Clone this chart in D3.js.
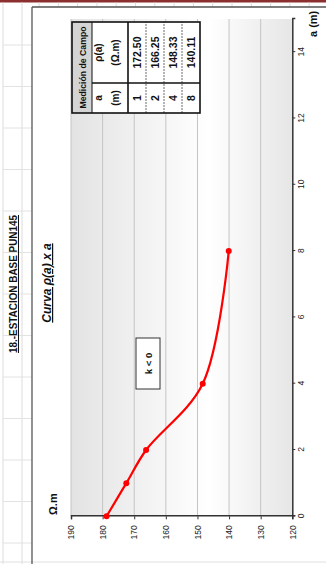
<!DOCTYPE html>
<html>
<head>
<meta charset="utf-8">
<script src="https://cdnjs.cloudflare.com/ajax/libs/d3/7.8.5/d3.min.js"></script>
<style>
  body { margin: 0; background: #fff; }
  svg { display: block; }
  text { font-family: "Liberation Sans", Arial, sans-serif; }
</style>
</head>
<body>
<svg id="svg" width="326" height="564"></svg>
<script>
// field measurements (a in m, rho in ohm.m)
var aValues = [0, 1, 2, 4, 8];
var rhoValues = [178.75, 172.5, 166.25, 148.33, 140.11];
var tableA = [1, 2, 4, 8];
var tableRho = [172.50, 166.25, 148.33, 140.11];
var xTicks = [0, 2, 4, 6, 8, 10, 12, 14];
var yTicks = [120, 130, 140, 150, 160, 170, 180, 190];
var xDomain = [0, 15];
var yDomain = [120, 190];

var svg = d3.select("#svg");
// page is the sheet turned a quarter, so draw upright and rotate
var W = 564, H = 326;

// sheet decoration in page coords
var deco = svg.append("g");
deco.append("rect").attr("x", 0).attr("y", 0).attr("width", 326).attr("height", 2.5).style("fill", "#8c2f2f");
[3, 22].forEach(function(px){
	deco.append("line").attr("x1", px).attr("x2", px).attr("y1", 2.5).attr("y2", 564).attr("stroke", "#dcdcdc").attr("stroke-width", 1);
});
for(var ry = 45; ry < 560; ry += 41.5){
	deco.append("line").attr("x1", 3).attr("x2", 32).attr("y1", ry).attr("y2", ry).attr("stroke", "#e2e2e2");
}
for(var cx = 39; cx < 326; cx += 19.3){
	deco.append("line").attr("x1", cx).attr("x2", cx).attr("y1", 2.5).attr("y2", 7).attr("stroke", "#dcdcdc");
}
deco.append("line").attr("x1", 0).attr("x2", 326).attr("y1", 562).attr("y2", 562).attr("stroke", "#e0e0e0");

var g = svg.append("g").attr("transform", "translate(0," + W + ") rotate(-90)");

// chart frame
g.append("line").attr("x1", 0).attr("x2", 557).attr("y1", 32).attr("y2", 32).attr("stroke", "#555").attr("stroke-width", 1.3);
g.append("line").attr("x1", 557).attr("x2", 557).attr("y1", 32).attr("y2", H).attr("stroke", "#555").attr("stroke-width", 1.3);

var plot = {left: 47.7, right: 545, top: 71, bottom: 292.3};
var x = d3.scaleLinear().domain(xDomain).range([plot.left, plot.right]);
var y = d3.scaleLinear().domain(yDomain).range([plot.bottom, plot.top]);

var defs = svg.append("defs");
var grad = defs.append("linearGradient").attr("id", "bg").attr("x1", 0).attr("y1", 0).attr("x2", 0).attr("y2", 1);
grad.append("stop").attr("offset", "0%").attr("stop-color", "#e3e3e3");
grad.append("stop").attr("offset", "62%").attr("stop-color", "#ffffff");
grad.append("stop").attr("offset", "100%").attr("stop-color", "#e6e6e6");

g.append("rect").attr("x", plot.left).attr("y", plot.top)
	.attr("width", plot.right - plot.left).attr("height", plot.bottom - plot.top)
	.style("fill", "url(#bg)");

// horizontal gridlines
g.append("g").selectAll("line").data(yTicks.filter(function(d){ return d > yDomain[0]; })).enter()
	.append("line")
	.attr("x1", plot.left).attr("x2", plot.right)
	.attr("y1", function(d){ return y(d); }).attr("y2", function(d){ return y(d); })
	.attr("stroke", "#c4c4c4").attr("stroke-width", 1);

// axes
var xAxis = g.append("g").attr("transform", "translate(0," + plot.bottom + ")")
	.call(d3.axisBottom(x).tickValues(xTicks).tickSize(3).tickPadding(3).tickFormat(d3.format("d")));
var yAxis = g.append("g").attr("transform", "translate(" + plot.left + ",0)")
	.call(d3.axisLeft(y).tickValues(yTicks).tickSize(3).tickPadding(6).tickFormat(d3.format("d")));
[xAxis, yAxis].forEach(function(ax){
	ax.select(".domain").attr("stroke", "#333").attr("stroke-width", 1.5);
	ax.selectAll(".tick line").attr("stroke", "#333");
	ax.selectAll(".tick text").style("font-size", "8.5px").style("fill", "#222");
});

// axis titles
g.append("text").attr("x", 49).attr("y", 57).text("Ω.m")
	.style("font-size", "11px").style("font-weight", "bold").style("fill", "#111");
g.append("text").attr("x", 527).attr("y", 317).text("a (m)")
	.style("font-size", "11px").style("font-weight", "bold").style("fill", "#111");

// titles
g.append("text").attr("x", 280).attr("y", 17).attr("text-anchor", "middle")
	.attr("textLength", 138).attr("lengthAdjust", "spacingAndGlyphs")
	.text("18.-ESTACION BASE PUN145")
	.style("font-size", "10px").style("font-weight", "bold").style("text-decoration", "underline").style("fill", "#111");
g.append("text").attr("x", 281).attr("y", 51).attr("text-anchor", "middle")
	.text("Curva ρ(a) x a")
	.style("font-size", "12px").style("font-weight", "bold").style("font-style", "italic").style("text-decoration", "underline").style("fill", "#111");

// k < 0 box
g.append("rect").attr("x", 175).attr("y", 136).attr("width", 51).attr("height", 24)
	.style("fill", "#fff").attr("stroke", "#333").attr("stroke-width", 1);
g.append("text").attr("x", 200.5).attr("y", 151.5).attr("text-anchor", "middle").text("k < 0")
	.style("font-size", "9.5px").style("font-weight", "bold").style("fill", "#111");

// curve
var pts = aValues.map(function(a, i){ return [a, rhoValues[i]]; });
var line = d3.line().x(function(d){ return x(d[0]); }).y(function(d){ return y(d[1]); })
	.curve(d3.curveCatmullRom.alpha(0.5));
g.append("path").datum(pts).attr("d", line)
	.style("fill", "none").attr("stroke", "#ff0000").attr("stroke-width", 2.2);
g.append("g").selectAll("circle").data(pts).enter().append("circle")
	.attr("cx", function(d){ return x(d[0]); }).attr("cy", function(d){ return y(d[1]); })
	.attr("r", 3).style("fill", "#ff0000");

// table
var tb = {left: 451, mid: 481, right: 542, top: 72, band: 92, head: 128, bottom: 200};
var rowH = (tb.bottom - tb.head) / tableA.length;
var table = g.append("g");
table.append("rect").attr("x", tb.left).attr("y", tb.top).attr("width", tb.right - tb.left).attr("height", tb.bottom - tb.top)
	.style("fill", "#fff");
table.append("rect").attr("x", tb.left).attr("y", tb.top).attr("width", tb.right - tb.left).attr("height", tb.band - tb.top)
	.style("fill", "#d4d4d4");
table.append("text").attr("x", (tb.left + tb.right) / 2).attr("y", (tb.top + tb.band) / 2 + 3.5).attr("text-anchor", "middle")
	.attr("textLength", 82).attr("lengthAdjust", "spacingAndGlyphs")
	.text("Medición de Campo").style("font-size", "9.5px").style("font-weight", "bold").style("fill", "#111");
[["a", "(m)", (tb.left + tb.mid) / 2], ["ρ(a)", "(Ω.m)", (tb.mid + tb.right) / 2]].forEach(function(h){
	table.append("text").attr("x", h[2]).attr("y", 102).attr("text-anchor", "middle").text(h[0])
		.style("font-size", "10px").style("font-weight", "bold").style("fill", "#111");
	table.append("text").attr("x", h[2]).attr("y", 119).attr("text-anchor", "middle").text(h[1])
		.style("font-size", "10px").style("font-weight", "bold").style("fill", "#111");
});
tableA.forEach(function(a, i){
	var cy = tb.head + rowH * i + rowH / 2 + 3.7;
	table.append("text").attr("x", (tb.left + tb.mid) / 2).attr("y", cy).attr("text-anchor", "middle").text(a)
		.style("font-size", "10.5px").style("font-weight", "bold").style("fill", "#111");
	table.append("text").attr("x", (tb.mid + tb.right) / 2).attr("y", cy).attr("text-anchor", "middle").text(tableRho[i].toFixed(2))
		.style("font-size", "10.5px").style("font-weight", "bold").style("fill", "#111");
	if(i > 0){
		table.append("line").attr("x1", tb.left).attr("x2", tb.right)
			.attr("y1", tb.head + rowH * i).attr("y2", tb.head + rowH * i)
			.attr("stroke", "#444").attr("stroke-width", 0.8).attr("stroke-dasharray", "2,1");
	}
});
table.append("line").attr("x1", tb.left).attr("x2", tb.right).attr("y1", tb.band).attr("y2", tb.band).attr("stroke", "#111").attr("stroke-width", 1);
table.append("line").attr("x1", tb.left).attr("x2", tb.right).attr("y1", tb.head).attr("y2", tb.head).attr("stroke", "#111").attr("stroke-width", 1.6);
table.append("line").attr("x1", tb.mid).attr("x2", tb.mid).attr("y1", tb.band).attr("y2", tb.bottom).attr("stroke", "#111").attr("stroke-width", 1.6);
table.append("rect").attr("x", tb.left).attr("y", tb.top).attr("width", tb.right - tb.left).attr("height", tb.bottom - tb.top)
	.style("fill", "none").attr("stroke", "#111").attr("stroke-width", 1.6);
</script>
</body>
</html>
